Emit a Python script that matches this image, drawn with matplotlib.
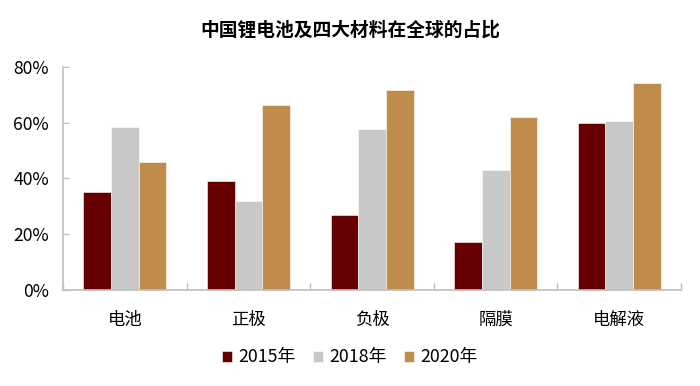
import matplotlib
matplotlib.use("Agg")
import matplotlib.pyplot as plt
import numpy as np

plt.rcParams['font.family'] = ['Noto Sans CJK SC', 'DejaVu Sans']

categories = ["电池", "正极", "负极", "隔膜", "电解液"]
series_names = ["2015年", "2018年", "2020年"]
v2015 = [35, 39, 27, 17, 60]
v2018 = [58.5, 32, 57.7, 43, 60.7]
v2020 = [46, 66.3, 71.6, 62, 74.2]
colors = ["#660000", "#c8c8c8", "#c08c4c"]
title = "中国锂电池及四大材料在全球的占比"

fig = plt.figure(figsize=(7, 3.86), dpi=100)
ax = fig.add_axes([0.09, 0.249, 0.883, 0.578])

x = np.arange(len(categories))
w = 0.224
for i, (vals, c, name) in enumerate(zip([v2015, v2018, v2020], colors, series_names)):
    ax.bar(x + (i - 1) * w, np.array(vals) / 100, width=w, color=c, label=name,
           edgecolor="white", linewidth=0.4)

ax.set_xlim(-0.5, len(categories) - 0.5)
ax.set_ylim(0, 0.8)
ax.set_yticks([0, 0.2, 0.4, 0.6, 0.8])
ax.set_yticklabels(["0%", "20%", "40%", "60%", "80%"], fontsize=12.7)
ax.set_xticks(x)
ax.set_xticklabels(categories, fontsize=12.5)
ax.tick_params(axis='x', length=0, pad=15)
ax.set_xticks(np.arange(len(categories) + 1) - 0.5, minor=True)
ax.tick_params(axis='x', which='minor', direction='in', length=5, color="#bfbfbf", width=1)
ax.tick_params(axis='y', direction='in', length=4, color="#bfbfbf", width=1, pad=10)

for s in ["top", "right"]:
    ax.spines[s].set_visible(False)
for s in ["left", "bottom"]:
    ax.spines[s].set_color("#bfbfbf")
    ax.spines[s].set_linewidth(1.2)

fig.text(0.5, 0.922, title, ha="center", va="center", fontsize=13.5, fontweight="bold")
fig.legend(loc="center", bbox_to_anchor=(0.5, 0.074), ncol=3, frameon=False,
           fontsize=12.8, handlelength=0.55, handleheight=0.55, handletextpad=0.35,
           columnspacing=1.0)

fig.savefig("out.png", dpi=100)
